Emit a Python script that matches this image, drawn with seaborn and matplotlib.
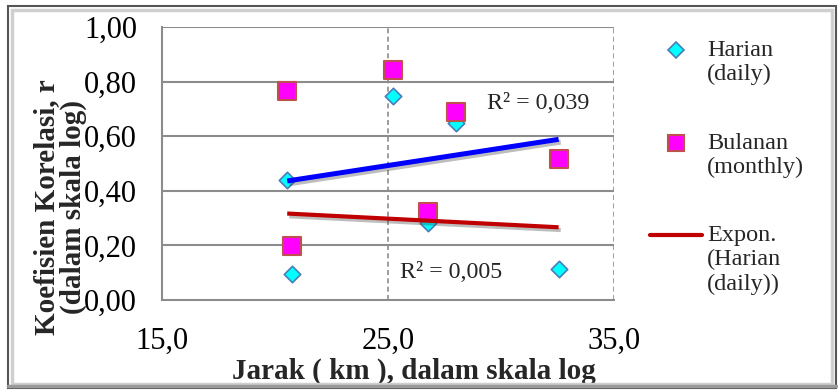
import numpy as np
import pandas as pd
import matplotlib
matplotlib.use("Agg")
import matplotlib.pyplot as plt
import matplotlib.patheffects as pe
from matplotlib.lines import Line2D
from matplotlib.patches import Rectangle
import seaborn as sns

# data
jarak = [20.54, 20.74, 25.24, 28.0, 26.78, 32.55]
harian = [0.44, 0.094, 0.747, 0.648, 0.282, 0.115]
bulanan = [0.767, 0.198, 0.844, 0.69, 0.324, 0.515]
r2_labels = ["R² = 0,039", "R² = 0,005"]
x_ticks = [15.0, 25.0, 35.0]
y_ticks = [0.0, 0.2, 0.4, 0.6, 0.8, 1.0]

df = pd.DataFrame({"jarak": jarak, "harian": harian, "bulanan": bulanan})

sns.set_theme(style="white")
plt.rcParams["font.family"] = ["Liberation Serif", "DejaVu Serif"]

fig = plt.figure(figsize=(8.38, 3.91), dpi=100)
ax = fig.add_axes([162 / 838, 1 - 300 / 391, 452 / 838, 273 / 391])

grid_col = "#8c8c8c"
sns.scatterplot(data=df, x="jarak", y="harian", marker="D", s=70, color="#00ffff",
                edgecolor="#4a7ebb", linewidth=1.2, ax=ax, zorder=3)
sns.scatterplot(data=df, x="jarak", y="bulanan", marker="s", s=185, color="#ff00ff",
                edgecolor="#c0504d", linewidth=1.5, ax=ax, zorder=4)

# exponential trend lines (fit on log y)
xs = np.array([min(jarak), max(jarak)])
shadow = [pe.SimpleLineShadow(offset=(1.5, -2), shadow_color="#444444", alpha=0.35), pe.Normal()]
b_fit = np.polyfit(df["jarak"], np.log(df["bulanan"]), 1)
h_fit = np.polyfit(df["jarak"], np.log(df["harian"]), 1)
ax.plot(xs, np.exp(np.polyval(b_fit, xs)), color="#0000ff", lw=3.6, zorder=5,
        solid_capstyle="butt", path_effects=shadow)
ax.plot(xs, np.exp(np.polyval(h_fit, xs)), color="#c00000", lw=3.0, zorder=5,
        solid_capstyle="butt", path_effects=shadow)

ax.text(29.38, 0.72, r2_labels[0], fontsize=17.3, va="center", ha="left")
ax.text(25.55, 0.10, r2_labels[1], fontsize=17.3, va="center", ha="left")

ax.set_xlim(15, 35)
ax.set_ylim(0, 1)
ax.set_xticks(x_ticks)
ax.set_xticklabels([f"{v:.1f}".replace(".", ",") for v in x_ticks])
ax.set_yticks(y_ticks)
ax.set_yticklabels([f"{v:.2f}".replace(".", ",") for v in y_ticks])
ax.tick_params(axis="both", labelsize=22, colors=grid_col, labelcolor="black",
               length=6, width=1.3, direction="out")
ax.tick_params(axis="y", pad=12)
ax.tick_params(axis="x", pad=13)
ax.set_facecolor("white")
for side in ["top", "right"]:
    ax.spines[side].set_visible(False)
for side in ["left", "bottom"]:
    ax.spines[side].set_color(grid_col)
    ax.spines[side].set_linewidth(1.5)
ax.grid(False)
for v in y_ticks[1:]:
    ax.axhline(v, color=grid_col, lw=1.5, zorder=1)
for v in x_ticks[1:]:
    ax.axvline(v, color=grid_col, lw=1.2, ls=(0, (3, 2)), zorder=1)

ax.set_xlabel("Jarak ( km ), dalam skala log", fontsize=21, fontweight="bold")
ax.xaxis.set_label_coords(0.557, -0.262)
ax.xaxis.label.set_va("center")
ax.set_ylabel("Koefisien Korelasi, r\n(dalam skala log)", fontsize=21,
              fontweight="bold", linespacing=1.0)
ax.yaxis.set_label_coords(-0.225, 0.34)
ax.yaxis.label.set_va("center")

# legend on the right
lx, tx = 676 / 838, 707 / 838
fy = lambda py: 1 - py / 391
fig.add_artist(Line2D([lx], [fy(50)], marker="D", markersize=8, color="#00ffff",
                      markeredgecolor="#4a7ebb", markeredgewidth=1.2, transform=fig.transFigure))
fig.add_artist(Line2D([lx], [fy(143)], marker="s", markersize=11, color="#ff00ff",
                      markeredgecolor="#c0504d", markeredgewidth=1.5, transform=fig.transFigure))
fig.add_artist(Line2D([650 / 838, 702 / 838], [fy(235), fy(235)], color="#c00000", lw=3.0,
                      transform=fig.transFigure))
leg_kw = dict(fontsize=17.5, ha="left", va="top", linespacing=1.2)
fig.text(tx, fy(40), "Harian\n(daily)", **leg_kw)
fig.text(tx, fy(133), "Bulanan\n(monthly)", **leg_kw)
fig.text(tx, fy(225), "Expon.\n(Harian\n(daily))", **leg_kw)

# chart frame
fig.add_artist(Rectangle((8 / 838, 1 - 388 / 391), 828 / 838, 382 / 391, fill=False,
                         edgecolor="#555555", lw=1.5, transform=fig.transFigure))
fig.add_artist(Rectangle((12 / 838, 1 - 384 / 391), 820 / 838, 374 / 391, fill=False,
                         edgecolor="#cfcfcf", lw=2.5, transform=fig.transFigure))
fig.add_artist(Line2D([8 / 838, 836 / 838], [1 - 386 / 391] * 2, color="#9a9a9a", lw=2.5,
                      transform=fig.transFigure))

fig.savefig("out.png", dpi=100, facecolor="white")
